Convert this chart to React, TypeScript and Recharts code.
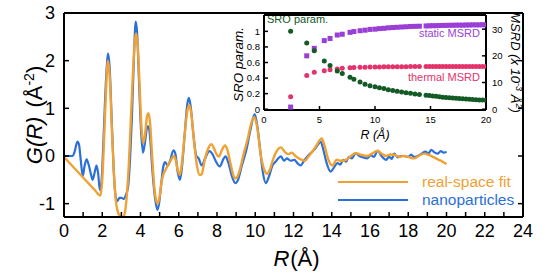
import React from 'react';
import {
  LineChart, Line, XAxis, YAxis, ReferenceLine, Legend,
  ScatterChart, Scatter, Customized,
} from 'recharts';

const FONT = '"Liberation Sans", Arial, Helvetica, sans-serif';
const ORANGE = '#F0A134';
const BLUE = '#2B6FD8';
const GREEN = '#145A26';
const PURPLE = '#9A3FD6';
const PINK = '#E4336C';

// ---------- main chart: G(R) ----------
const fitR = [
  0.0, 0.9, 1.6, 1.9, 2.0, 2.1, 2.2, 2.3, 2.4, 2.5,
  2.6, 2.7, 2.8, 2.9, 3.0, 3.1, 3.2, 3.3, 3.4, 3.5,
  3.6, 3.7, 3.77, 3.85, 3.95, 4.05, 4.15, 4.25, 4.35, 4.42,
  4.5, 4.6, 4.7, 4.8, 4.9, 5.0, 5.1, 5.2, 5.3, 5.45,
  5.6, 5.75, 5.85, 5.95, 6.05, 6.15, 6.3, 6.45, 6.55, 6.65,
  6.8, 6.95, 7.1, 7.2, 7.35, 7.55, 7.72, 7.85, 8.0, 8.1,
  8.25, 8.42, 8.55, 8.7, 8.9, 9.0, 9.15, 9.4, 9.6, 9.8,
  9.95, 10.1, 10.3, 10.5, 10.62, 10.75, 10.95, 11.15, 11.35, 11.55,
  11.75, 11.9, 12.1, 12.37, 12.6, 12.8, 13.0, 13.2, 13.35, 13.48,
  13.6, 13.8, 14.03, 14.25, 14.5, 14.8, 15.0, 15.25, 15.5, 15.86,
  16.1, 16.4, 16.6, 16.84, 17.05, 17.3, 17.55, 17.78, 18.0, 18.3,
  18.55, 18.83, 19.1, 19.35, 19.6, 19.8, 20.0,
];
const fitG = [
  -0.02, -0.41, -0.71, -0.83, -0.5, 0.4, 1.4, 2.0, 1.6, 0.6,
  -0.3, -0.9, -1.15, -1.25, -1.28, -1.27, -1.15, -0.75, -0.1, 0.8,
  1.7, 2.4, 2.57, 2.35, 1.5, 0.6, 0.27, 0.5, 0.85, 0.9,
  0.7, 0.05, -0.55, -0.9, -1.0, -0.85, -0.55, -0.38, -0.3, -0.18,
  -0.08, 0.0, -0.1, -0.3, -0.4, -0.2, 0.4, 0.95, 1.07, 0.9,
  0.3, -0.2, -0.4, -0.38, -0.1, 0.17, 0.25, 0.15, 0.02, -0.01,
  0.12, 0.22, 0.12, -0.15, -0.45, -0.47, -0.35, 0.05, 0.35, 0.7,
  0.82, 0.6, 0.0, -0.32, -0.38, -0.3, -0.05, 0.12, 0.18, 0.08,
  0.04, 0.07, 0.0, -0.07, -0.1, 0.0, 0.1, 0.22, 0.32, 0.37,
  0.25, -0.05, -0.2, -0.08, -0.1, -0.07, 0.0, 0.06, 0.03, 0.0,
  0.05, 0.11, 0.05, 0.0, 0.03, 0.02, -0.02, 0.0, -0.02, -0.05,
  0.0, 0.05, 0.02, -0.03, -0.08, -0.12, -0.17,
];
const npR = [
  0.0, 0.25, 0.45, 0.55, 0.7, 0.78, 0.88, 0.98, 1.08, 1.18,
  1.3, 1.42, 1.5, 1.6, 1.7, 1.78, 1.88, 1.95, 2.05, 2.15,
  2.25, 2.3, 2.38, 2.5, 2.6, 2.7, 2.78, 2.9, 3.0, 3.12,
  3.25, 3.35, 3.45, 3.55, 3.65, 3.75, 3.82, 3.92, 4.02, 4.13,
  4.22, 4.35, 4.42, 4.52, 4.62, 4.75, 4.88, 4.97, 5.08, 5.18,
  5.28, 5.42, 5.55, 5.72, 5.82, 5.95, 6.06, 6.15, 6.3, 6.45,
  6.53, 6.62, 6.78, 6.92, 7.04, 7.2, 7.38, 7.6, 7.75, 7.95,
  8.15, 8.35, 8.45, 8.6, 8.8, 8.96, 9.1, 9.3, 9.55, 9.75,
  9.97, 10.1, 10.25, 10.4, 10.55, 10.7, 10.9, 11.06, 11.2, 11.35,
  11.5, 11.65, 11.85, 12.05, 12.2, 12.37, 12.55, 12.75, 12.95, 13.15,
  13.3, 13.42, 13.55, 13.7, 13.94, 14.1, 14.3, 14.45, 14.6, 14.75,
  14.9, 15.05, 15.25, 15.45, 15.65, 15.86, 16.05, 16.2, 16.4, 16.6,
  16.84, 17.0, 17.15, 17.26, 17.45, 17.6, 17.78, 18.0, 18.15, 18.3,
  18.5, 18.7, 18.9, 19.05, 19.2, 19.35, 19.53, 19.7, 19.85, 20.0,
];
const npG = [
  0.0, 0.0, 0.0, 0.08, 0.3, 0.25, -0.1, -0.42, -0.2, -0.07,
  -0.2, -0.4, -0.5, -0.35, -0.2, -0.35, -0.72, -0.6, 0.2, 1.2,
  1.95, 2.15, 1.9, 0.7, -0.3, -0.85, -0.95, -0.88, -0.88, -0.9,
  -0.8, -0.65, -0.1, 0.8, 2.0, 2.82, 2.6, 1.6, 0.6, 0.07,
  0.25, 0.6, 0.62, 0.3, -0.3, -0.85, -1.13, -1.0, -0.6, -0.25,
  -0.13, -0.2, -0.1, 0.12, 0.05, -0.35, -0.5, -0.3, 0.4, 1.1,
  1.22, 1.05, 0.4, 0.0, -0.05, -0.2, -0.05, 0.1, 0.05, -0.12,
  -0.22, -0.05, -0.01, -0.15, -0.45, -0.57, -0.5, -0.2, 0.15, 0.55,
  0.88, 0.65, 0.15, -0.35, -0.57, -0.45, -0.2, -0.12, -0.05, -0.01,
  -0.1, -0.05, -0.1, -0.08, -0.15, -0.2, -0.1, 0.0, 0.08, 0.16,
  0.25, 0.3, 0.15, -0.1, -0.33, -0.25, -0.15, -0.18, -0.08, -0.12,
  -0.02, -0.05, 0.06, 0.0, -0.03, -0.05, 0.02, -0.02, 0.11, 0.0,
  -0.08, -0.02, -0.06, 0.05, -0.03, 0.0, 0.0, -0.02, 0.03, -0.02,
  0.0, 0.05, 0.09, 0.05, 0.13, 0.08, 0.05, 0.1, 0.07, 0.09,
];
const mainXTicks = [0, 1, 2, 3, 4, 5, 6, 7, 8, 9, 10, 11, 12, 13, 14, 15, 16, 17, 18, 19, 20, 21, 22, 23, 24];
const mainYTicks = [-1, 0, 1, 2, 3];
const legendLabels = ['real-space fit', 'nanoparticles'];
const legendColors = [ORANGE, BLUE];

// ---------- inset: SRO & MSRD ----------
const insetR = [
  2.4, 3.85, 4.53, 5.43, 5.95, 6.6, 7.05, 7.75, 8.1, 8.65,
  9.1, 9.55, 10.0, 10.4, 10.8, 11.2, 11.6, 12.0, 12.4, 12.8,
  13.2, 13.6, 14.0, 14.6, 14.9, 15.2, 15.5, 15.8, 16.1, 16.4,
  16.7, 17.0, 17.3, 17.6, 17.9, 18.2, 18.5, 18.8, 19.1, 19.4,
  19.7, 20.0,
];
const sroParam = [
  1.0, 0.85, 0.75, 0.62, 0.56, 0.49, 0.46, 0.41, 0.385, 0.35,
  0.32, 0.30, 0.29, 0.275, 0.265, 0.25, 0.24, 0.23, 0.22, 0.21,
  0.205, 0.195, 0.19, 0.18, 0.175, 0.17, 0.165, 0.16, 0.155, 0.15,
  0.147, 0.143, 0.14, 0.137, 0.134, 0.131, 0.128, 0.125, 0.122, 0.12,
  0.118, 0.115,
];
const staticMsrd = [
  0.8, 20, 22.8, 25.7, 26.5, 27.8, 28.1, 28.8, 29.1, 29.4,
  29.6, 29.9, 30.0, 30.2, 30.3, 30.5, 30.6, 30.7, 30.8, 30.9,
  31.0, 31.05, 31.1, 31.2, 31.25, 31.3, 31.3, 31.35, 31.4, 31.4,
  31.45, 31.45, 31.5, 31.5, 31.5, 31.55, 31.55, 31.6, 31.6, 31.6,
  31.65, 31.65,
];
const thermalMsrd = [
  4.7, 12.6, 13.8, 14.4, 14.8, 15.1, 15.3, 15.5, 15.6, 15.7,
  15.75, 15.8, 15.85, 15.85, 15.9, 15.9, 15.9, 15.95, 15.95, 15.95,
  16.0, 16.0, 16.0, 16.0, 16.0, 16.0, 16.0, 16.0, 16.0, 16.0,
  16.0, 16.0, 16.0, 16.0, 16.0, 16.0, 16.0, 16.0, 16.0, 16.0,
  16.0, 16.0,
];
const insetXTicks = [0, 5, 10, 15, 20];
const sroTicks = [0, 0.2, 0.4, 0.6, 0.8, 1];
const msrdTicks = [0, 10, 20, 30];

const zip = (xs: number[], ys: number[], key: string) =>
  xs.slice(0, Math.min(xs.length, ys.length)).map((r, i) => ({ r, [key]: ys[i] }));

const fitData = zip(fitR, fitG, 'g');
const npData = zip(npR, npG, 'g');
const sroData = zip(insetR, sroParam, 'v');
const staticData = zip(insetR, staticMsrd, 'v');
const thermalData = zip(insetR, thermalMsrd, 'v');

// layout (pixels)
const M = { left: 64, top: 13, right: 523, bottom: 217 };        // main plot box
const I = { ox: 205, left: 59, top: 15, right: 281, bottom: 110 }; // inset plot box (local coords)

const AX = { stroke: '#000', strokeWidth: 2 };

type Orient = 'left' | 'right' | 'bottom';
const makeTick = (orient: Orient, axisPos: number, len: number, gap: number, fontSize: number,
  fmt: (v: number) => string) => (props: any) => {
  const v = props.payload?.value;
  const label = fmt(v);
  if (orient === 'bottom') {
    const x = props.x;
    return (
      <g>
        <line x1={x} x2={x} y1={axisPos} y2={axisPos - len} stroke="#000" strokeWidth={1.5} />
        {label !== '' && (
          <text x={x} y={axisPos + gap} dy="0.72em" textAnchor="middle" fontFamily={FONT}
            fontSize={fontSize} fill="#000">{label}</text>
        )}
      </g>
    );
  }
  const y = props.y;
  const dir = orient === 'left' ? 1 : -1;
  return (
    <g>
      <line x1={axisPos} x2={axisPos + dir * len} y1={y} y2={y} stroke="#000" strokeWidth={1.5} />
      {label !== '' && (
        <text x={axisPos - dir * gap} y={y} dy="0.36em" textAnchor={orient === 'left' ? 'end' : 'start'}
          fontFamily={FONT} fontSize={fontSize} fill="#000">{label}</text>
      )}
    </g>
  );
};

const mainXTick = makeTick('bottom', M.bottom, 5, 7, 18, (v) => (v % 2 === 0 ? String(v) : ''));
const mainYTick = makeTick('left', M.left, 5, 9, 18, (v) => String(v));
const mainY2Tick = makeTick('right', M.right, 5, 0, 18, () => '');
const insetXTick = makeTick('bottom', I.bottom, 4, 6, 9.5, (v) => String(v));
const insetYTick = makeTick('left', I.left, 4, 4, 9.5, (v) => String(v));
const insetY2Tick = makeTick('right', I.right, 4, 6, 9.5, (v) => String(v));

const MainTitles = () => {
  const cx = 34;
  const cy = (M.top + M.bottom) / 2;
  return (
    <g fontFamily={FONT} fontSize={22} fill="#000">
      <text x={(M.left + M.right) / 2 + 3} y={M.bottom + 49} textAnchor="middle">
        <tspan fontStyle="italic">R</tspan>
        <tspan dx={1}>(Å)</tspan>
      </text>
      <text transform={`rotate(-90 ${cx} ${cy})`} x={cx} y={cy + 8} textAnchor="middle">
        <tspan fontStyle="italic">G(R)</tspan>
        <tspan dx={9}>(Å</tspan>
        <tspan dy={-8} fontSize={14}>-2</tspan>
        <tspan dy={8}>)</tspan>
      </text>
    </g>
  );
};

const InsetTitles = () => {
  const cyL = (I.top + I.bottom) / 2 + 2;
  const cxL = 33;
  const cyR = (I.top + I.bottom) / 2;
  const cxR = I.right + 30;
  return (
    <g fontFamily={FONT} fill="#000">
      <text x={(I.left + I.right) / 2} y={I.bottom + 29} textAnchor="middle" fontSize={12.5}
        fontStyle="italic">R (Å)</text>
      <text transform={`rotate(-90 ${cxL} ${cyL})`} x={cxL} y={cyL + 5} textAnchor="middle"
        fontSize={13.5} fontStyle="italic">SRO param.</text>
      <text transform={`rotate(90 ${cxR} ${cyR})`} x={cxR} y={cyR + 5} textAnchor="middle"
        fontSize={13} fontStyle="italic">
        <tspan>MSRD (x 10</tspan>
        <tspan dy={-5} fontSize={9}>-3</tspan>
        <tspan dy={5}> Å</tspan>
        <tspan dy={-5} fontSize={9}>2</tspan>
        <tspan dy={5}>)</tspan>
      </text>
      <g fontSize={11}>
        <text x={I.left + 3} y={I.top + 8} fill={GREEN}>SRO param.</text>
        <text x={I.right - 6} y={I.top + 22} fill={PURPLE} textAnchor="end">static MSRD</text>
        <text x={I.right - 6} y={I.top + 66} fill={PINK} textAnchor="end">thermal MSRD</text>
      </g>
    </g>
  );
};

const Dot = (color: string) => (p: any) => <circle cx={p.cx} cy={p.cy} r={2.5} fill={color} />;
const Sq = (color: string) => (p: any) => (
  <rect x={p.cx - 2.5} y={p.cy - 2.5} width={5} height={5} fill={color} />
);

const LegendContent = () => (
  <div style={{ fontFamily: FONT, fontSize: 15.5 }}>
    {legendLabels.map((label, i) => (
      <div key={label} style={{ display: 'flex', alignItems: 'center', height: 18 }}>
        <svg width={70} height={4} style={{ display: 'block' }}>
          <line x1={0} y1={2} x2={70} y2={2} stroke={legendColors[i]} strokeWidth={2.2} />
        </svg>
        <span style={{ marginLeft: 14, color: legendColors[i], lineHeight: '18px' }}>{label}</span>
      </div>
    ))}
  </div>
);

export default function App() {
  return (
    <div style={{ position: 'absolute', left: 0, top: 0, width: 550, height: 276, background: '#fff' }}>
      <div style={{ position: 'absolute', left: 0, top: 0 }}>
        <LineChart width={550} height={276} margin={{ top: M.top, right: 550 - M.right - 1, bottom: 0, left: 0 }}>
          <XAxis type="number" dataKey="r" domain={[0, 24]} ticks={mainXTicks} interval={0}
            allowDataOverflow height={276 - M.bottom} axisLine={AX} tickLine={false} tickSize={0}
            tick={mainXTick} />
          <YAxis type="number" domain={[-1.28, 3]} ticks={mainYTicks} interval={0} allowDataOverflow
            width={M.left} axisLine={AX} tickLine={false} tickSize={0} tick={mainYTick} />
          <YAxis yAxisId="r" orientation="right" type="number" domain={[-1.28, 3]} ticks={mainYTicks}
            interval={0} allowDataOverflow width={1} axisLine={AX} tickLine={false} tickSize={0}
            tick={mainY2Tick} />
          <ReferenceLine y={3} stroke="#000" strokeWidth={2} />
          <Line data={npData} dataKey="g" type="monotone" stroke={BLUE} strokeWidth={2.2}
            dot={false} isAnimationActive={false} name="nanoparticles" />
          <Line data={fitData} dataKey="g" type="monotone" stroke={ORANGE} strokeWidth={2.4}
            dot={false} isAnimationActive={false} name="real-space fit" />
          <Customized component={MainTitles} />
          <Legend layout="horizontal" verticalAlign="middle" align="center" content={LegendContent}
            wrapperStyle={{ position: 'absolute', left: 338, top: 173, width: 200, height: 36 }} />
        </LineChart>
      </div>
      <div style={{ position: 'absolute', left: I.ox, top: 0 }}>
        <ScatterChart width={330} height={150} margin={{ top: I.top, right: 0, bottom: 0, left: 0 }}>
          <XAxis type="number" dataKey="r" domain={[0, 20]} ticks={insetXTicks} interval={0}
            allowDataOverflow height={150 - I.bottom} axisLine={AX} tickLine={false} tickSize={0}
            tick={insetXTick} />
          <YAxis yAxisId="l" type="number" dataKey="v" domain={[-0.01, 1.21]} ticks={sroTicks}
            interval={0} allowDataOverflow width={I.left} axisLine={AX} tickLine={false} tickSize={0}
            tick={insetYTick} />
          <YAxis yAxisId="m" orientation="right" type="number" dataKey="v" domain={[-0.3, 35.3]}
            ticks={msrdTicks} interval={0} allowDataOverflow width={330 - I.right} axisLine={AX}
            tickLine={false} tickSize={0} tick={insetY2Tick} />
          <ReferenceLine yAxisId="l" y={1.21} stroke="#000" strokeWidth={2} />
          <Scatter data={staticData} yAxisId="m" fill={PURPLE} shape={Sq(PURPLE)} isAnimationActive={false} />
          <Scatter data={thermalData} yAxisId="m" fill={PINK} shape={Dot(PINK)} isAnimationActive={false} />
          <Scatter data={sroData} yAxisId="l" fill={GREEN} shape={Dot(GREEN)} isAnimationActive={false} />
          <Customized component={InsetTitles} />
        </ScatterChart>
      </div>
    </div>
  );
}
